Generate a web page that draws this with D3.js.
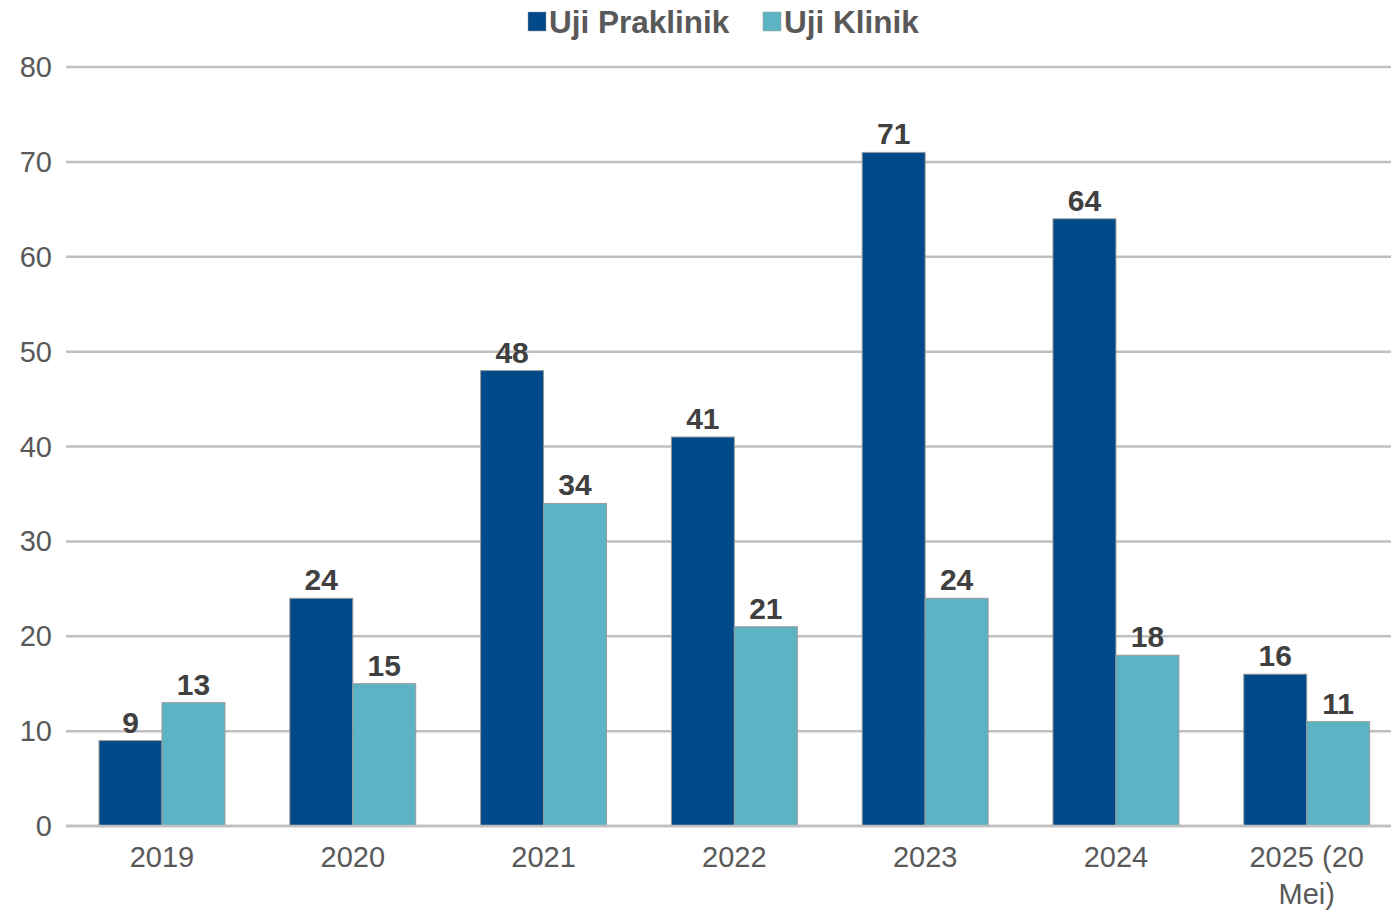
<!DOCTYPE html>
<html><head><meta charset="utf-8">
<script src="https://cdn.jsdelivr.net/npm/d3@7"></script>
<style>body{margin:0;background:#fff;font-family:"Liberation Sans",Arial,sans-serif;}</style>
</head><body><svg id="c" width="1391" height="913"></svg>
<script>
const categories = ["2019","2020","2021","2022","2023","2024","2025 (20 Mei)"];
const categoryLines = [["2019"],["2020"],["2021"],["2022"],["2023"],["2024"],["2025 (20","Mei)"]];
const seriesNames = ["Uji Praklinik","Uji Klinik"];
const praklinik = [9,24,48,41,71,64,16];
const klinik = [13,15,34,21,24,18,11];
const yTicks = [0,10,20,30,40,50,60,70,80];
const colors = ["#004a8a","#5bb3c4"];

(function(){
const svg = d3.select("#c");
const pL = 66, pR = 1391, pT = 67, pB = 826;
const x = d3.scaleBand().domain(categories).range([pL,1402.7]).paddingInner(0.34).paddingOuter(0.173);
const x1 = d3.scaleBand().domain(seriesNames).range([0,x.bandwidth()]);
const y = d3.scaleLinear().domain([0,80]).range([pB,pT]);

svg.append("g").selectAll("line").data(yTicks).join("line")
  .attr("x1",pL).attr("x2",pR).attr("y1",d=>y(d)).attr("y2",d=>y(d))
  .attr("stroke","#bfbfbf").attr("stroke-width",2.5);
svg.append("g").selectAll("text").data(yTicks).join("text")
  .attr("x",52).attr("y",d=>y(d)+10).attr("text-anchor","end")
  .attr("font-size",29).attr("fill","#595959").text(d=>d);

const series = [praklinik, klinik];
series.forEach((vals,si)=>{
  const g = svg.append("g");
  g.selectAll("rect").data(categories).join("rect")
    .attr("x",c=>x(c)+x1(seriesNames[si])).attr("width",x1.bandwidth())
    .attr("y",(c,i)=>y(vals[i])).attr("height",(c,i)=>y(0)-y(vals[i]))
    .attr("fill",colors[si]).attr("stroke","#9a9a9a").attr("stroke-width",1);
  g.selectAll("text").data(categories).join("text")
    .attr("x",c=>x(c)+x1(seriesNames[si])+x1.bandwidth()/2)
    .attr("y",(c,i)=>y(vals[i])-8).attr("text-anchor","middle")
    .attr("font-size",30).attr("font-weight","bold").attr("fill","#404040")
    .text((c,i)=>vals[i]);
});
svg.append("line").attr("x1",pL).attr("x2",pR).attr("y1",y(0)).attr("y2",y(0))
  .attr("stroke","#bfbfbf").attr("stroke-width",2.5);

categories.forEach((c,i)=>{
  const t = svg.append("text").attr("text-anchor","middle").attr("font-size",29).attr("fill","#595959");
  categoryLines[i].forEach((ln,j)=>{
    t.append("tspan").attr("x",x(c)+x.bandwidth()/2).attr("y",867+j*37).text(ln);
  });
});

const lg = svg.append("g");
const legendX = [528, 763];
seriesNames.forEach((n,i)=>{
  lg.append("rect").attr("x",legendX[i]).attr("y",12).attr("width",18).attr("height",19)
    .attr("fill",colors[i]).attr("stroke","#9a9a9a").attr("stroke-width",0.5);
  lg.append("text").attr("x",legendX[i]+21).attr("y",33).attr("font-size",31.5)
    .attr("font-weight","bold").attr("fill","#595959").text(n);
});
})();
</script></body></html>
